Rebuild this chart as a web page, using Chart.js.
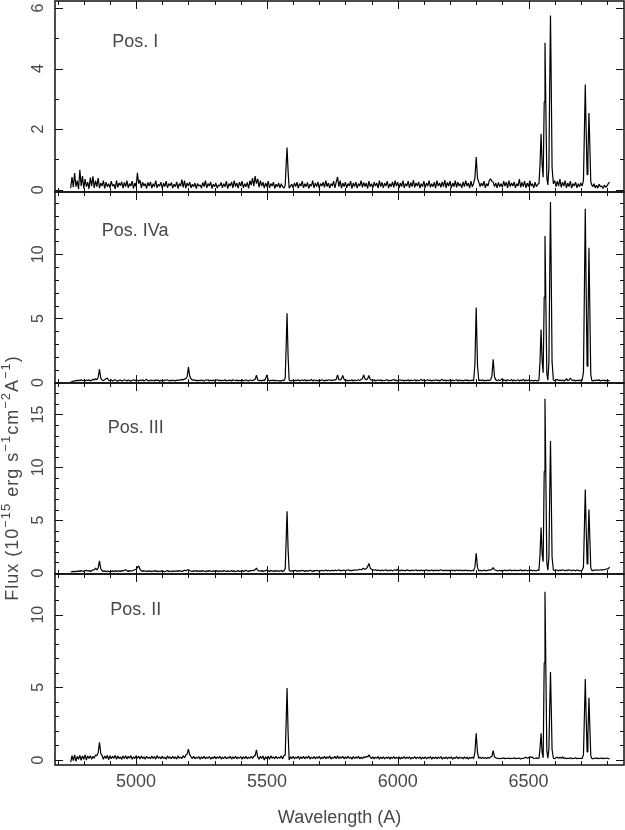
<!DOCTYPE html>
<html>
<head>
<meta charset="utf-8">
<script src="https://cdn.jsdelivr.net/npm/chart.js@4.4.1/dist/chart.umd.min.js"></script>
<style>
  html, body { margin: 0; padding: 0; background: #fff; }
  #wrap { width: 625px; height: 830px; }
</style>
</head>
<body>
<div id="wrap"><canvas id="spectra" width="625" height="830"></canvas></div>
<script>
// wavelength grid (A), shared by the four slit positions
const wave = [
    4750, 4755, 4760, 4765, 4770, 4775, 4780, 4785, 4790, 4795,
    4800, 4805, 4810, 4815, 4820, 4825, 4830, 4835, 4840, 4845,
    4850, 4855, 4860, 4865, 4870, 4875, 4880, 4885, 4890, 4895,
    4900, 4905, 4910, 4915, 4920, 4925, 4930, 4935, 4940, 4945,
    4950, 4955, 4960, 4965, 4970, 4975, 4980, 4985, 4990, 4995,
    5000, 5005, 5010, 5015, 5020, 5025, 5030, 5035, 5040, 5045,
    5050, 5055, 5060, 5065, 5070, 5075, 5080, 5085, 5090, 5095,
    5100, 5105, 5110, 5115, 5120, 5125, 5130, 5135, 5140, 5145,
    5150, 5155, 5160, 5165, 5170, 5175, 5180, 5185, 5190, 5195,
    5200, 5205, 5210, 5215, 5220, 5225, 5230, 5235, 5240, 5245,
    5250, 5255, 5260, 5265, 5270, 5275, 5280, 5285, 5290, 5295,
    5300, 5305, 5310, 5315, 5320, 5325, 5330, 5335, 5340, 5345,
    5350, 5355, 5360, 5365, 5370, 5375, 5380, 5385, 5390, 5395,
    5400, 5405, 5410, 5415, 5420, 5425, 5430, 5435, 5440, 5445,
    5450, 5455, 5460, 5465, 5470, 5475, 5480, 5485, 5490, 5495,
    5500, 5505, 5510, 5515, 5520, 5525, 5530, 5535, 5540, 5545,
    5550, 5555, 5560, 5565, 5570, 5574, 5577, 5581, 5585, 5590,
    5595, 5600, 5605, 5610, 5615, 5620, 5625, 5630, 5635, 5640,
    5645, 5650, 5655, 5660, 5665, 5670, 5675, 5680, 5685, 5690,
    5695, 5700, 5705, 5710, 5715, 5720, 5725, 5730, 5735, 5740,
    5745, 5750, 5755, 5760, 5765, 5770, 5775, 5780, 5785, 5790,
    5795, 5800, 5805, 5810, 5815, 5820, 5825, 5830, 5835, 5840,
    5845, 5850, 5855, 5860, 5865, 5870, 5875, 5880, 5885, 5890,
    5895, 5900, 5905, 5910, 5915, 5920, 5925, 5930, 5935, 5940,
    5945, 5950, 5955, 5960, 5965, 5970, 5975, 5980, 5985, 5990,
    5995, 6000, 6005, 6010, 6015, 6020, 6025, 6030, 6035, 6040,
    6045, 6050, 6055, 6060, 6065, 6070, 6075, 6080, 6085, 6090,
    6095, 6100, 6105, 6110, 6115, 6120, 6125, 6130, 6135, 6140,
    6145, 6150, 6155, 6160, 6165, 6170, 6175, 6180, 6185, 6190,
    6195, 6200, 6205, 6210, 6215, 6220, 6225, 6230, 6235, 6240,
    6245, 6250, 6255, 6260, 6265, 6270, 6275, 6280, 6285, 6290,
    6295, 6300, 6305, 6310, 6315, 6320, 6325, 6330, 6335, 6340,
    6345, 6350, 6355, 6360, 6365, 6370, 6375, 6380, 6385, 6390,
    6395, 6400, 6405, 6410, 6415, 6420, 6425, 6430, 6435, 6440,
    6445, 6450, 6455, 6460, 6465, 6470, 6475, 6480, 6485, 6490,
    6495, 6500, 6505, 6510, 6515, 6520, 6525, 6530, 6535, 6540,
    6544, 6548, 6552, 6556, 6560, 6563, 6566, 6570, 6574, 6578,
    6581, 6584, 6587, 6590, 6595, 6600, 6605, 6610, 6615, 6620,
    6625, 6630, 6635, 6640, 6645, 6650, 6655, 6660, 6665, 6670,
    6675, 6680, 6685, 6690, 6695, 6700, 6705, 6710, 6714, 6717,
    6720, 6724, 6727, 6731, 6734, 6738, 6742, 6746, 6750, 6755,
    6760, 6765, 6770, 6775, 6780, 6785, 6790, 6795, 6800, 6805,
    6810
];

// flux, 10^-15 erg s^-1 cm^-2 A^-1
const posI = [
    0.05, 0.42, 0.08, 0.55, 0.1, 0.3, 0.02, 0.66, 0.12, 0.45,
    0.04, 0.35, 0.1, 0.25, 0.03, 0.4, 0.12, 0.44, 0.06, 0.3,
    0.1, 0.38, 0.05, 0.22, 0.12, 0.3, 0.04, 0.25, 0.1, 0.2,
    0.06, 0.28, 0.12, 0.18, 0.03, 0.3, 0.08, 0.22, 0.14, 0.26,
    0.05, 0.24, 0.1, 0.3, 0.06, 0.2, 0.12, 0.28, 0.04, 0.22,
    0.1, 0.56, 0.2, 0.32, 0.06, 0.25, 0.12, 0.2, 0.04, 0.24,
    0.12, 0.26, 0.05, 0.2, 0.1, 0.3, 0.06, 0.18, 0.12, 0.25,
    0.04, 0.22, 0.1, 0.28, 0.06, 0.2, 0.13, 0.24, 0.05, 0.18,
    0.1, 0.26, 0.04, 0.2, 0.12, 0.33, 0.08, 0.3, 0.05, 0.22,
    0.12, 0.25, 0.06, 0.18, 0.1, 0.22, 0.04, 0.2, 0.12, 0.16,
    0.05, 0.24, 0.1, 0.3, 0.06, 0.2, 0.12, 0.26, 0.04, 0.18,
    0.1, 0.22, 0.05, 0.16, 0.12, 0.24, 0.06, 0.2, 0.1, 0.28,
    0.04, 0.2, 0.12, 0.26, 0.06, 0.3, 0.1, 0.22, 0.05, 0.25,
    0.12, 0.28, 0.06, 0.2, 0.1, 0.24, 0.04, 0.3, 0.15, 0.38,
    0.12, 0.45, 0.2, 0.36, 0.08, 0.3, 0.12, 0.25, 0.05, 0.22,
    0.1, 0.28, 0.06, 0.2, 0.12, 0.25, 0.04, 0.18, 0.1, 0.22,
    0.06, 0.2, 0.1, 0.05, 0.15, 0.9, 1.39, 0.6, 0.05, 0.12,
    0.18, 0.06, 0.22, 0.1, 0.25, 0.05, 0.2, 0.12, 0.28, 0.06,
    0.2, 0.1, 0.24, 0.04, 0.18, 0.12, 0.3, 0.06, 0.22, 0.1,
    0.26, 0.05, 0.2, 0.12, 0.25, 0.08, 0.3, 0.1, 0.22, 0.05,
    0.2, 0.12, 0.28, 0.06, 0.25, 0.42, 0.1, 0.3, 0.05, 0.22,
    0.1, 0.25, 0.06, 0.2, 0.12, 0.28, 0.04, 0.22, 0.1, 0.26,
    0.05, 0.2, 0.12, 0.3, 0.08, 0.24, 0.1, 0.22, 0.04, 0.28,
    0.1, 0.2, 0.06, 0.25, 0.12, 0.22, 0.05, 0.3, 0.1, 0.24,
    0.06, 0.22, 0.12, 0.28, 0.05, 0.2, 0.1, 0.26, 0.08, 0.3,
    0.12, 0.25, 0.05, 0.22, 0.1, 0.3, 0.06, 0.2, 0.12, 0.28,
    0.06, 0.24, 0.1, 0.32, 0.08, 0.22, 0.12, 0.26, 0.05, 0.2,
    0.1, 0.28, 0.06, 0.22, 0.12, 0.3, 0.08, 0.2, 0.1, 0.25,
    0.05, 0.3, 0.12, 0.22, 0.08, 0.26, 0.1, 0.32, 0.06, 0.24,
    0.12, 0.28, 0.05, 0.22, 0.1, 0.3, 0.08, 0.25, 0.12, 0.2,
    0.06, 0.26, 0.1, 0.3, 0.12, 0.22, 0.05, 0.28, 0.1, 0.2,
    0.38, 1.08, 0.38, 0.25, 0.1, 0.22, 0.12, 0.28, 0.06, 0.2,
    0.12, 0.3, 0.36, 0.28, 0.25, 0.1, 0.22, 0.06, 0.24, 0.1,
    0.2, 0.08, 0.28, 0.12, 0.25, 0.06, 0.3, 0.1, 0.22, 0.12,
    0.26, 0.06, 0.2, 0.12, 0.35, 0.08, 0.24, 0.1, 0.28, 0.06,
    0.22, 0.1, 0.3, 0.12, 0.2, 0.06, 0.25, 0.1, 0.18, 0.2,
    0.83, 1.85, 0.83, 0.41, 2.9, 4.85, 2.9, 0.38, 0.16, 0.75,
    3.4, 5.75, 3.4, 0.75, 0.2, 0.3, 0.1, 0.28, 0.12, 0.35,
    0.08, 0.25, 0.12, 0.3, 0.06, 0.22, 0.1, 0.28, 0.05, 0.2,
    0.12, 0.25, 0.06, 0.2, 0.1, 0.22, 0.12, 0.31, 2.1, 3.47,
    2.1, 0.5, 1.1, 2.53, 1.6, 0.27, 0.15, 0.1, 0.2, 0.06,
    0.15, 0.05, 0.18, 0.1, 0.12, 0.04, 0.15, 0.08, 0.12, 0.2,
    0.25
];
const posIVa = [
    0.05, 0.08, 0.12, 0.1, 0.18, 0.12, 0.2, 0.14, 0.22, 0.15,
    0.18, 0.12, 0.2, 0.15, 0.22, 0.12, 0.18, 0.25, 0.2, 0.3,
    0.22, 0.4, 1.04, 0.35, 0.2, 0.15, 0.22, 0.3, 0.35, 0.18,
    0.15, 0.2, 0.12, 0.18, 0.22, 0.15, 0.1, 0.18, 0.2, 0.12,
    0.15, 0.22, 0.18, 0.12, 0.2, 0.15, 0.1, 0.18, 0.22, 0.15,
    0.2, 0.18, 0.12, 0.2, 0.15, 0.22, 0.12, 0.18, 0.25, 0.15,
    0.12, 0.2, 0.15, 0.18, 0.12, 0.22, 0.15, 0.2, 0.1, 0.18,
    0.15, 0.12, 0.2, 0.18, 0.22, 0.15, 0.12, 0.2, 0.15, 0.18,
    0.12, 0.2, 0.15, 0.22, 0.18, 0.25, 0.2, 0.28, 0.3, 0.45,
    1.2, 0.5, 0.3, 0.18, 0.22, 0.15, 0.2, 0.12, 0.18, 0.15,
    0.2, 0.15, 0.12, 0.2, 0.18, 0.22, 0.12, 0.18, 0.15, 0.2,
    0.12, 0.18, 0.22, 0.15, 0.2, 0.12, 0.18, 0.15, 0.22, 0.12,
    0.18, 0.15, 0.2, 0.12, 0.22, 0.18, 0.15, 0.2, 0.12, 0.18,
    0.15, 0.22, 0.12, 0.18, 0.2, 0.15, 0.12, 0.2, 0.18, 0.15,
    0.2, 0.25, 0.57, 0.2, 0.15, 0.18, 0.12, 0.2, 0.15, 0.3,
    0.6, 0.2, 0.12, 0.18, 0.15, 0.2, 0.12, 0.18, 0.15, 0.12,
    0.15, 0.12, 0.18, 0.15, 0.35, 3.1, 5.4, 2.05, 0.2, 0.12,
    0.15, 0.18, 0.12, 0.2, 0.15, 0.22, 0.12, 0.18, 0.2, 0.15,
    0.22, 0.12, 0.2, 0.15, 0.18, 0.25, 0.12, 0.2, 0.15, 0.18,
    0.12, 0.2, 0.15, 0.22, 0.18, 0.12, 0.2, 0.15, 0.22, 0.18,
    0.2, 0.15, 0.22, 0.18, 0.25, 0.6, 0.22, 0.2, 0.3, 0.55,
    0.25, 0.15, 0.2, 0.12, 0.18, 0.15, 0.22, 0.12, 0.2, 0.15,
    0.18, 0.22, 0.15, 0.25, 0.3, 0.6, 0.28, 0.22, 0.3, 0.55,
    0.25, 0.2, 0.15, 0.22, 0.12, 0.18, 0.2, 0.15, 0.22, 0.12,
    0.18, 0.15, 0.2, 0.22, 0.12, 0.18, 0.15, 0.2, 0.25, 0.15,
    0.2, 0.12, 0.18, 0.22, 0.15, 0.2, 0.12, 0.18, 0.15, 0.22,
    0.12, 0.2, 0.15, 0.18, 0.22, 0.12, 0.2, 0.15, 0.18, 0.25,
    0.15, 0.2, 0.12, 0.18, 0.22, 0.15, 0.2, 0.12, 0.18, 0.15,
    0.22, 0.15, 0.2, 0.12, 0.18, 0.25, 0.15, 0.2, 0.12, 0.18,
    0.15, 0.22, 0.12, 0.2, 0.15, 0.18, 0.22, 0.12, 0.2, 0.15,
    0.18, 0.12, 0.2, 0.15, 0.22, 0.12, 0.18, 0.15, 0.2, 0.12,
    1.35, 5.85, 1.35, 0.14, 0.2, 0.15, 0.22, 0.12, 0.18, 0.15,
    0.2, 0.15, 0.22, 0.5, 1.82, 0.45, 0.2, 0.15, 0.22, 0.15,
    0.22, 0.3, 0.15, 0.2, 0.12, 0.22, 0.18, 0.15, 0.25, 0.12,
    0.2, 0.15, 0.18, 0.22, 0.12, 0.2, 0.15, 0.25, 0.12, 0.2,
    0.15, 0.2, 0.12, 0.18, 0.15, 0.12, 0.18, 0.15, 0.12, 0.22,
    1.68, 4.13, 1.68, 0.76, 6.67, 11.43, 6.67, 0.69, 0.18, 1.63,
    8.18, 14.08, 8.18, 1.63, 0.2, 0.14, 0.2, 0.25, 0.15, 0.2,
    0.15, 0.2, 0.12, 0.18, 0.3, 0.15, 0.2, 0.35, 0.2, 0.15,
    0.2, 0.12, 0.18, 0.15, 0.2, 0.12, 0.18, 0.79, 7.88, 13.56,
    7.88, 1.28, 4.04, 10.52, 6.15, 0.64, 0.16, 0.12, 0.18, 0.15,
    0.2, 0.15, 0.22, 0.12, 0.18, 0.15, 0.2, 0.12, 0.18, 0.15,
    0.15
];
const posIII = [
    0.1, 0.12, 0.15, 0.1, 0.18, 0.12, 0.2, 0.15, 0.22, 0.18,
    0.15, 0.2, 0.25, 0.18, 0.22, 0.15, 0.2, 0.3, 0.28, 0.45,
    0.3, 0.45, 1.15, 0.4, 0.22, 0.15, 0.2, 0.12, 0.18, 0.15,
    0.1, 0.15, 0.2, 0.12, 0.22, 0.15, 0.18, 0.2, 0.15, 0.22,
    0.2, 0.25, 0.3, 0.2, 0.15, 0.22, 0.18, 0.2, 0.25, 0.3,
    0.35, 0.5, 0.67, 0.35, 0.2, 0.15, 0.22, 0.18, 0.15, 0.2,
    0.15, 0.2, 0.12, 0.18, 0.22, 0.15, 0.2, 0.12, 0.18, 0.15,
    0.2, 0.15, 0.12, 0.18, 0.22, 0.15, 0.18, 0.12, 0.2, 0.15,
    0.18, 0.2, 0.15, 0.22, 0.18, 0.15, 0.2, 0.25, 0.22, 0.28,
    0.3, 0.22, 0.18, 0.15, 0.2, 0.18, 0.22, 0.15, 0.18, 0.2,
    0.15, 0.22, 0.18, 0.12, 0.2, 0.15, 0.22, 0.18, 0.15, 0.2,
    0.18, 0.15, 0.22, 0.12, 0.2, 0.18, 0.15, 0.22, 0.18, 0.15,
    0.2, 0.15, 0.18, 0.22, 0.15, 0.2, 0.12, 0.18, 0.22, 0.15,
    0.18, 0.22, 0.15, 0.2, 0.25, 0.18, 0.15, 0.22, 0.2, 0.25,
    0.22, 0.3, 0.45, 0.25, 0.2, 0.18, 0.22, 0.15, 0.2, 0.22,
    0.28, 0.2, 0.15, 0.22, 0.18, 0.2, 0.15, 0.22, 0.18, 0.2,
    0.18, 0.22, 0.15, 0.2, 0.4, 3.35, 5.85, 2.25, 0.25, 0.15,
    0.2, 0.22, 0.18, 0.25, 0.15, 0.2, 0.22, 0.18, 0.25, 0.2,
    0.15, 0.22, 0.2, 0.18, 0.25, 0.2, 0.15, 0.22, 0.2, 0.25,
    0.18, 0.22, 0.2, 0.25, 0.18, 0.22, 0.28, 0.2, 0.25, 0.18,
    0.22, 0.25, 0.2, 0.28, 0.22, 0.25, 0.3, 0.2, 0.25, 0.22,
    0.28, 0.2, 0.25, 0.3, 0.22, 0.25, 0.2, 0.28, 0.25, 0.3,
    0.25, 0.3, 0.35, 0.3, 0.38, 0.43, 0.35, 0.4, 0.6, 0.9,
    0.45, 0.35, 0.3, 0.25, 0.3, 0.22, 0.28, 0.25, 0.2, 0.28,
    0.22, 0.25, 0.3, 0.2, 0.25, 0.22, 0.28, 0.2, 0.25, 0.3,
    0.22, 0.35, 0.25, 0.2, 0.28, 0.22, 0.25, 0.2, 0.3, 0.22,
    0.25, 0.2, 0.28, 0.22, 0.25, 0.3, 0.2, 0.25, 0.22, 0.28,
    0.2, 0.25, 0.22, 0.3, 0.2, 0.25, 0.22, 0.28, 0.2, 0.25,
    0.22, 0.28, 0.2, 0.25, 0.3, 0.22, 0.25, 0.2, 0.28, 0.22,
    0.25, 0.2, 0.28, 0.22, 0.25, 0.2, 0.28, 0.25, 0.22, 0.28,
    0.2, 0.25, 0.22, 0.28, 0.2, 0.25, 0.22, 0.2, 0.25, 0.2,
    0.55, 1.85, 0.55, 0.2, 0.25, 0.2, 0.22, 0.28, 0.2, 0.25,
    0.22, 0.3, 0.25, 0.35, 0.5, 0.3, 0.25, 0.2, 0.22, 0.25,
    0.2, 0.25, 0.22, 0.28, 0.2, 0.25, 0.22, 0.3, 0.2, 0.25,
    0.22, 0.28, 0.2, 0.25, 0.22, 0.3, 0.2, 0.25, 0.22, 0.28,
    0.2, 0.25, 0.22, 0.28, 0.2, 0.25, 0.22, 0.2, 0.28, 0.25,
    1.79, 4.3, 1.79, 1.06, 9.6, 16.5, 9.6, 0.98, 0.26, 1.51,
    7.33, 12.5, 7.33, 1.51, 0.28, 0.22, 0.3, 0.25, 0.2, 0.28,
    0.22, 0.3, 0.25, 0.2, 0.28, 0.22, 0.3, 0.25, 0.2, 0.28,
    0.25, 0.2, 0.28, 0.25, 0.22, 0.2, 0.25, 0.57, 4.7, 7.9,
    4.7, 0.85, 2.42, 6.0, 3.62, 0.48, 0.25, 0.22, 0.28, 0.25,
    0.3, 0.25, 0.28, 0.3, 0.25, 0.32, 0.3, 0.35, 0.38, 0.4,
    0.55
];
const posII = [
    -0.15, 0.3, -0.05, 0.35, -0.1, 0.25, 0.05, 0.32, -0.02, 0.28,
    0.05, 0.35, 0.0, 0.28, 0.1, 0.3, 0.05, 0.25, 0.12, 0.35,
    0.3, 0.5, 1.22, 0.45, 0.3, 0.05, 0.28, 0.1, 0.32, 0.02,
    0.3, 0.08, 0.25, 0.12, 0.32, 0.05, 0.28, 0.1, 0.22, 0.04,
    0.28, 0.1, 0.3, 0.06, 0.25, 0.12, 0.3, 0.05, 0.22, 0.1,
    0.3, 0.12, 0.25, 0.06, 0.28, 0.1, 0.22, 0.05, 0.26, 0.12,
    0.2, 0.08, 0.28, 0.1, 0.24, 0.06, 0.3, 0.12, 0.22, 0.08,
    0.25, 0.1, 0.2, 0.05, 0.28, 0.12, 0.22, 0.08, 0.26, 0.1,
    0.22, 0.06, 0.28, 0.12, 0.2, 0.1, 0.3, 0.15, 0.35, 0.4,
    0.74, 0.35, 0.22, 0.1, 0.25, 0.08, 0.2, 0.12, 0.24, 0.06,
    0.22, 0.1, 0.26, 0.08, 0.2, 0.12, 0.24, 0.05, 0.2, 0.1,
    0.25, 0.08, 0.22, 0.12, 0.26, 0.06, 0.2, 0.1, 0.24, 0.08,
    0.2, 0.12, 0.25, 0.06, 0.22, 0.1, 0.26, 0.08, 0.2, 0.12,
    0.24, 0.06, 0.22, 0.1, 0.25, 0.08, 0.2, 0.12, 0.26, 0.1,
    0.25, 0.3, 0.7, 0.2, 0.05, 0.25, 0.1, 0.28, 0.0, 0.22,
    0.1, 0.25, 0.05, 0.28, 0.12, 0.22, 0.08, 0.25, 0.1, 0.2,
    0.12, 0.28, 0.08, 0.3, 0.35, 2.85, 4.95, 1.9, 0.0, 0.22,
    0.1, 0.25, 0.08, 0.2, 0.12, 0.26, 0.05, 0.22, 0.1, 0.25,
    0.08, 0.22, 0.12, 0.28, 0.06, 0.2, 0.1, 0.24, 0.08, 0.22,
    0.12, 0.26, 0.06, 0.2, 0.1, 0.25, 0.08, 0.22, 0.12, 0.28,
    0.06, 0.2, 0.12, 0.25, 0.08, 0.3, 0.1, 0.22, 0.12, 0.26,
    0.08, 0.22, 0.1, 0.25, 0.12, 0.2, 0.06, 0.24, 0.1, 0.22,
    0.12, 0.25, 0.08, 0.2, 0.1, 0.22, 0.15, 0.25, 0.2, 0.35,
    0.2, 0.1, 0.22, 0.08, 0.2, 0.12, 0.24, 0.06, 0.2, 0.1,
    0.22, 0.08, 0.18, 0.12, 0.22, 0.06, 0.2, 0.1, 0.24, 0.08,
    0.18, 0.12, 0.22, 0.06, 0.2, 0.1, 0.24, 0.08, 0.2, 0.12,
    0.22, 0.06, 0.18, 0.1, 0.24, 0.08, 0.2, 0.12, 0.22, 0.06,
    0.2, 0.1, 0.22, 0.08, 0.18, 0.12, 0.24, 0.06, 0.2, 0.1,
    0.22, 0.08, 0.2, 0.12, 0.24, 0.06, 0.18, 0.1, 0.22, 0.08,
    0.2, 0.12, 0.22, 0.06, 0.18, 0.1, 0.24, 0.08, 0.2, 0.12,
    0.18, 0.08, 0.22, 0.1, 0.2, 0.06, 0.18, 0.12, 0.2, 0.1,
    0.5, 1.84, 0.5, 0.12, 0.2, 0.1, 0.18, 0.12, 0.15, 0.1,
    0.18, 0.12, 0.2, 0.25, 0.64, 0.2, 0.15, 0.1, 0.12, 0.08,
    0.12, 0.1, 0.15, 0.08, 0.12, 0.1, 0.14, 0.08, 0.12, 0.1,
    0.15, 0.08, 0.12, 0.1, 0.14, 0.06, 0.12, 0.1, 0.15, 0.2,
    0.12, 0.15, 0.22, 0.18, 0.2, 0.1, 0.12, 0.15, 0.1, 0.13,
    0.78, 1.84, 0.5, 0.15, 6.7, 11.58, 6.7, 0.64, 0.12, 0.74,
    3.55, 6.06, 3.55, 0.74, 0.12, 0.08, 0.15, 0.2, 0.12, 0.18,
    0.12, 0.22, 0.1, 0.15, 0.08, 0.12, 0.1, 0.15, 0.08, 0.12,
    0.1, 0.15, 0.08, 0.12, 0.1, 0.12, 0.1, 0.36, 3.27, 5.57,
    3.27, 0.56, 1.68, 4.28, 2.54, 0.3, 0.1, 0.08, 0.12, 0.1,
    0.15, 0.08, 0.12, 0.1, 0.15, 0.08, 0.12, 0.1, 0.14, 0.1,
    0.1
];

const panels = ['Pos. I', 'Pos. IVa', 'Pos. III', 'Pos. II'];
const fluxes = [posI, posIVa, posIII, posII];
const yMin = [-0.076, -0.035, -0.1, -0.345];
const yMax = [6.23, 14.86, 17.98, 12.8];
const yLabelStep = [2, 5, 5, 5];
const xMin = 4690, xMax = 6865;
const xLabelStep = 500;

const ink = '#111';
const textGrey = '#484848';
const fontName = 'Liberation Sans';
const axisIds = ['y1', 'y2', 'y3', 'y4'];

// where the "Pos." captions sit, in data units of each panel
const captionWave = [4909, 4869, 4892, 4901];
const captionFlux = [4.86, 11.8, 13.7, 10.3];

// inward tick marks on all four sides plus a frame round every panel
const frames = {
    id: 'frames',
    afterDatasetsDraw(chart) {
        const ctx = chart.ctx;
        const xs = chart.scales.x;
        ctx.save();
        ctx.strokeStyle = ink;
        axisIds.forEach(function (id, i) {
            const ys = chart.scales[id];
            ctx.lineWidth = 1;
            ctx.beginPath();
            ys.ticks.forEach(function (t) {
                const py = Math.round(ys.getPixelForValue(t.value)) + 0.5;
                const len = t.value % yLabelStep[i] === 0 ? 8 : 4;
                ctx.moveTo(xs.left, py); ctx.lineTo(xs.left + len, py);
                ctx.moveTo(xs.right, py); ctx.lineTo(xs.right - len, py);
            });
            xs.ticks.forEach(function (t) {
                const px = Math.round(xs.getPixelForValue(t.value)) + 0.5;
                const len = t.value % xLabelStep === 0 ? 8 : 4;
                ctx.moveTo(px, ys.top); ctx.lineTo(px, ys.top + len);
                ctx.moveTo(px, ys.bottom); ctx.lineTo(px, ys.bottom - len);
            });
            ctx.stroke();
            ctx.lineWidth = 1.5;
            ctx.strokeRect(xs.left, ys.top, xs.right - xs.left, ys.bottom - ys.top);
        });
        ctx.restore();
    }
};

// panel captions and the rotated flux title with its superscripts
const captions = {
    id: 'captions',
    afterDraw(chart) {
        const ctx = chart.ctx;
        const xs = chart.scales.x;
        ctx.save();
        ctx.fillStyle = textGrey;
        ctx.font = '18px "' + fontName + '"';
        ctx.textBaseline = 'middle';
        ctx.textAlign = 'left';
        panels.forEach(function (name, i) {
            const ys = chart.scales[axisIds[i]];
            ctx.fillText(name, xs.getPixelForValue(captionWave[i]), ys.getPixelForValue(captionFlux[i]));
        });

        const parts = [['Flux (10', 0], ['\u221215', 1], [' erg s', 0], ['\u22121', 1],
                       ['cm', 0], ['\u22122', 1], ['A', 0], ['\u22121', 1], [')', 0]];
        const fontFor = function (sup) { return (sup ? '13px "' : '18px "') + fontName + '"'; };
        ctx.translate(13, 478);
        ctx.rotate(-Math.PI / 2);
        ctx.letterSpacing = '1px';
        let total = 0;
        parts.forEach(function (p) { ctx.font = fontFor(p[1]); total += ctx.measureText(p[0]).width; });
        let x = -total / 2;
        parts.forEach(function (p) {
            ctx.font = fontFor(p[1]);
            ctx.fillText(p[0], x, p[1] ? -7 : 0);
            x += ctx.measureText(p[0]).width;
        });
        ctx.restore();
    }
};

function yAxis(i) {
    return {
        type: 'linear',
        position: 'left',
        stack: 'flux',
        weight: 4 - i,
        min: yMin[i],
        max: yMax[i],
        grid: { display: false, drawTicks: false },
        border: { display: false },
        ticks: {
            stepSize: 1,
            autoSkip: false,
            includeBounds: false,
            minRotation: 90,
            maxRotation: 90,
            crossAlign: 'center',
            padding: i === 0 ? 12 : 7.5,
            color: textGrey,
            font: { family: fontName, size: 16, lineHeight: 1.2 },
            callback: function (v) { return v % yLabelStep[i] === 0 ? String(v) : ''; }
        },
        afterFit: function (s) {
            s.width = 55;
            s.paddingTop = 0;
            s.paddingBottom = 0;
        }
    };
}

const scales = {
    x: {
        type: 'linear',
        min: xMin,
        max: xMax,
        grid: { display: false, drawTicks: false },
        border: { display: false },
        ticks: {
            stepSize: 100,
            autoSkip: false,
            includeBounds: false,
            minRotation: 0,
            maxRotation: 0,
            padding: 6,
            color: textGrey,
            font: { family: fontName, size: 18, lineHeight: 1.2 },
            callback: function (v) { return v % xLabelStep === 0 ? String(v) : ''; }
        },
        title: {
            display: true,
            text: 'Wavelength (A)',
            color: textGrey,
            font: { family: fontName, size: 18, lineHeight: 1.2 },
            padding: { top: 0, bottom: 1 }
        },
        afterFit: function (s) {
            s.height = 65;
            s.paddingLeft = 0;
            s.paddingRight = 0;
        }
    }
};
axisIds.forEach(function (id, i) { scales[id] = yAxis(i); });

const datasets = fluxes.map(function (flux, i) {
    return {
        label: panels[i],
        data: wave.map(function (w, k) { return { x: w, y: flux[k] }; }),
        yAxisID: axisIds[i],
        borderColor: '#000',
        borderWidth: 1.2,
        borderJoinStyle: 'bevel',
        pointRadius: 0,
        tension: 0,
        fill: false
    };
});

new Chart(document.getElementById('spectra'), {
    type: 'line',
    data: { datasets: datasets },
    options: {
        responsive: false,
        animation: false,
        layout: { padding: { top: 1, right: 1, left: 0, bottom: 0 } },
        plugins: { legend: { display: false }, tooltip: { enabled: false } },
        scales: scales
    },
    plugins: [frames, captions]
});
</script>
</body>
</html>
